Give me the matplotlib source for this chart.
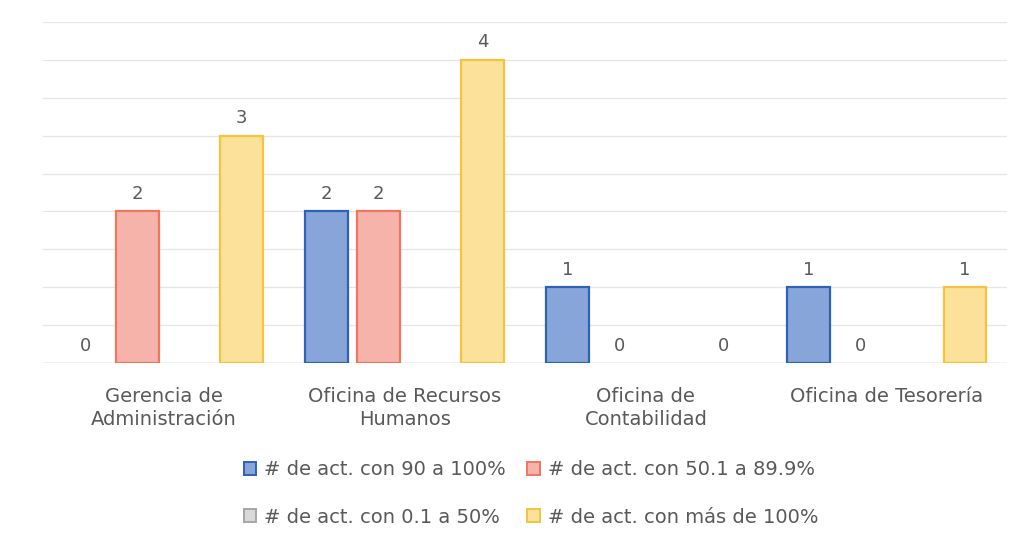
import numpy as np
import matplotlib
matplotlib.use("Agg")
import matplotlib.pyplot as plt
from matplotlib.patches import Patch

categories = ["Gerencia de\nAdministración", "Oficina de Recursos\nHumanos",
              "Oficina de\nContabilidad", "Oficina de Tesorería"]
series_names = ["# de act. con 90 a 100%", "# de act. con 50.1 a 89.9%",
                "# de act. con 0.1 a 50%", "# de act. con más de 100%"]
s_90_100 = [0, 2, 1, 1]
s_50_89 = [2, 2, 0, 0]
s_01_50 = [np.nan, np.nan, np.nan, np.nan]
s_mas_100 = [3, 4, 0, 1]

fills = ["#87a5d9", "#f5b3aa", "#d9d9d9", "#fbe19a"]
edges = ["#2e62b8", "#f07662", "#a6a6a6", "#f5c43c"]

plt.rcParams['font.family'] = ['DejaVu Sans']
text_color = "#595959"

fig = plt.figure(figsize=(10.29, 5.48), dpi=100)
ax = fig.add_axes([0.042, 0.3376, 0.937, 0.6224])

x = np.arange(len(categories))
width = 0.178
step = 0.216
all_series = [s_90_100, s_50_89, s_01_50, s_mas_100]
for i, vals in enumerate(all_series):
    pos = x + (i - 1.5) * step
    v = np.array(vals, dtype=float)
    h = np.nan_to_num(v)
    lws = [1.6 if hh > 0 else 0 for hh in h]
    ax.bar(pos, h, width, color=fills[i], edgecolor=edges[i],
           linewidth=lws, zorder=3)
    for p, val in zip(pos, v):
        if np.isnan(val):
            continue
        ax.annotate(f"{int(val)}", (p, val), xytext=(0, 6), textcoords="offset points",
                    ha="center", va="bottom", fontsize=13, color=text_color)

ax.set_xlim(-0.5, len(categories) - 0.5)
ax.set_ylim(0, 4.5)
ax.set_yticks(np.arange(0, 4.51, 0.5))
ax.yaxis.grid(True, color="#e6e6e6", linewidth=0.9, zorder=0)
ax.set_axisbelow(True)
ax.tick_params(axis="y", left=False, labelleft=False)
ax.tick_params(axis="x", bottom=False, pad=14)
ax.set_xticks(x)
ax.set_xticklabels(categories, fontsize=14, color=text_color, linespacing=1.25)
for s in ax.spines.values():
    s.set_visible(False)
ax.axhline(0, color="#d0d0d0", linewidth=1.0, zorder=2)

handles = [Patch(facecolor=fills[i], edgecolor=edges[i], linewidth=1.4, label=series_names[i])
           for i in range(4)]
order = [0, 2, 1, 3]
fig.legend([handles[i] for i in order], [series_names[i] for i in order],
           ncol=2, loc="center", bbox_to_anchor=(0.516, 0.0995), frameon=False,
           fontsize=14, labelcolor=text_color, handlelength=0.65, handleheight=0.65,
           handletextpad=0.4, columnspacing=1.1, labelspacing=1.45, borderpad=0.2)

fig.savefig("out.png", dpi=100, facecolor="white")
